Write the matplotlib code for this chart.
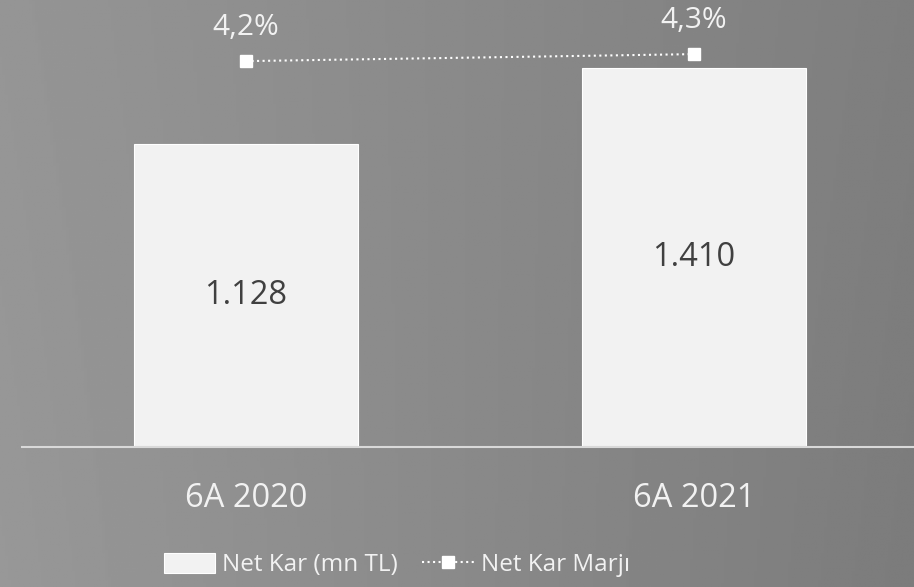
import numpy as np
import matplotlib.pyplot as plt

plt.rcParams['font.family'] = ['Open Sans', 'DejaVu Sans']

# dati
kategoriler = ['6A 2020', '6A 2021']
net_kar = [1128, 1410]
net_kar_etiket = ['1.128', '1.410']
marj = [4.2, 4.3]
marj_etiket = ['4,2%', '4,3%']

fig = plt.figure(figsize=(9.14, 5.87), dpi=100)

# sfondo sfumato grigio
bg = fig.add_axes([0, 0, 1, 1], zorder=-10)
gx = np.linspace(0, 1, 300)
gy = np.linspace(0, 1, 200)
GX, GY = np.meshgrid(gx, gy)
grad = 0.585 - 0.09 * GX + 0.01 * GY - 0.02 * GX * GY
bg.imshow(grad, cmap='gray', vmin=0, vmax=1, aspect='auto', extent=[0, 1, 0, 1], origin='upper')
bg.axis('off')

ax = fig.add_axes([22 / 914, 1 - 447 / 587, 896 / 914, 430 / 587])
ax.patch.set_alpha(0)
x = np.arange(len(kategoriler))
bars = ax.bar(x, net_kar, width=0.5, color='#f2f2f2', edgecolor='white', linewidth=0.8,
              label='Net Kar (mn TL)', zorder=2)
ax.bar_label(bars, labels=net_kar_etiket, label_type='center', color='#404040', fontsize=23.5)
ax.set_xlim(-0.5, 1.5)
ax.set_ylim(0, 1600)
ax.set_xticks(x)
ax.set_xticklabels(kategoriler, color='#f2f2f2', fontsize=23.5)
ax.tick_params(axis='x', length=0, pad=25)
ax.set_yticks([])
for s in ['top', 'right', 'left']:
    ax.spines[s].set_visible(False)
ax.spines['bottom'].set_color('#d9d9d9')
ax.spines['bottom'].set_linewidth(1.5)

ax2 = ax.twinx()
ax2.set_ylim(-1.31, 4.83)
ln, = ax2.plot(x, marj, linestyle=':', color='white', linewidth=1.5, marker='s',
               markersize=9, markerfacecolor='white', markeredgecolor='white',
               label='Net Kar Marjı')
for xi, yi, t in zip(x, marj, marj_etiket):
    ax2.annotate(t, (xi, yi), xytext=(0, 24), textcoords='offset points', ha='center',
                 va='center', color='#f2f2f2', fontsize=21.5)
ax2.set_yticks([])
for s in ax2.spines.values():
    s.set_visible(False)

fig.legend(handles=[bars, ln], loc='center', bbox_to_anchor=(397 / 914, 1 - 565 / 587),
           ncol=2, frameon=False, fontsize=17.5, labelcolor='#f2f2f2',
           handlelength=2.1, handleheight=0.9, handletextpad=0.3, columnspacing=1.0)

plt.savefig('out.png', dpi=100)
